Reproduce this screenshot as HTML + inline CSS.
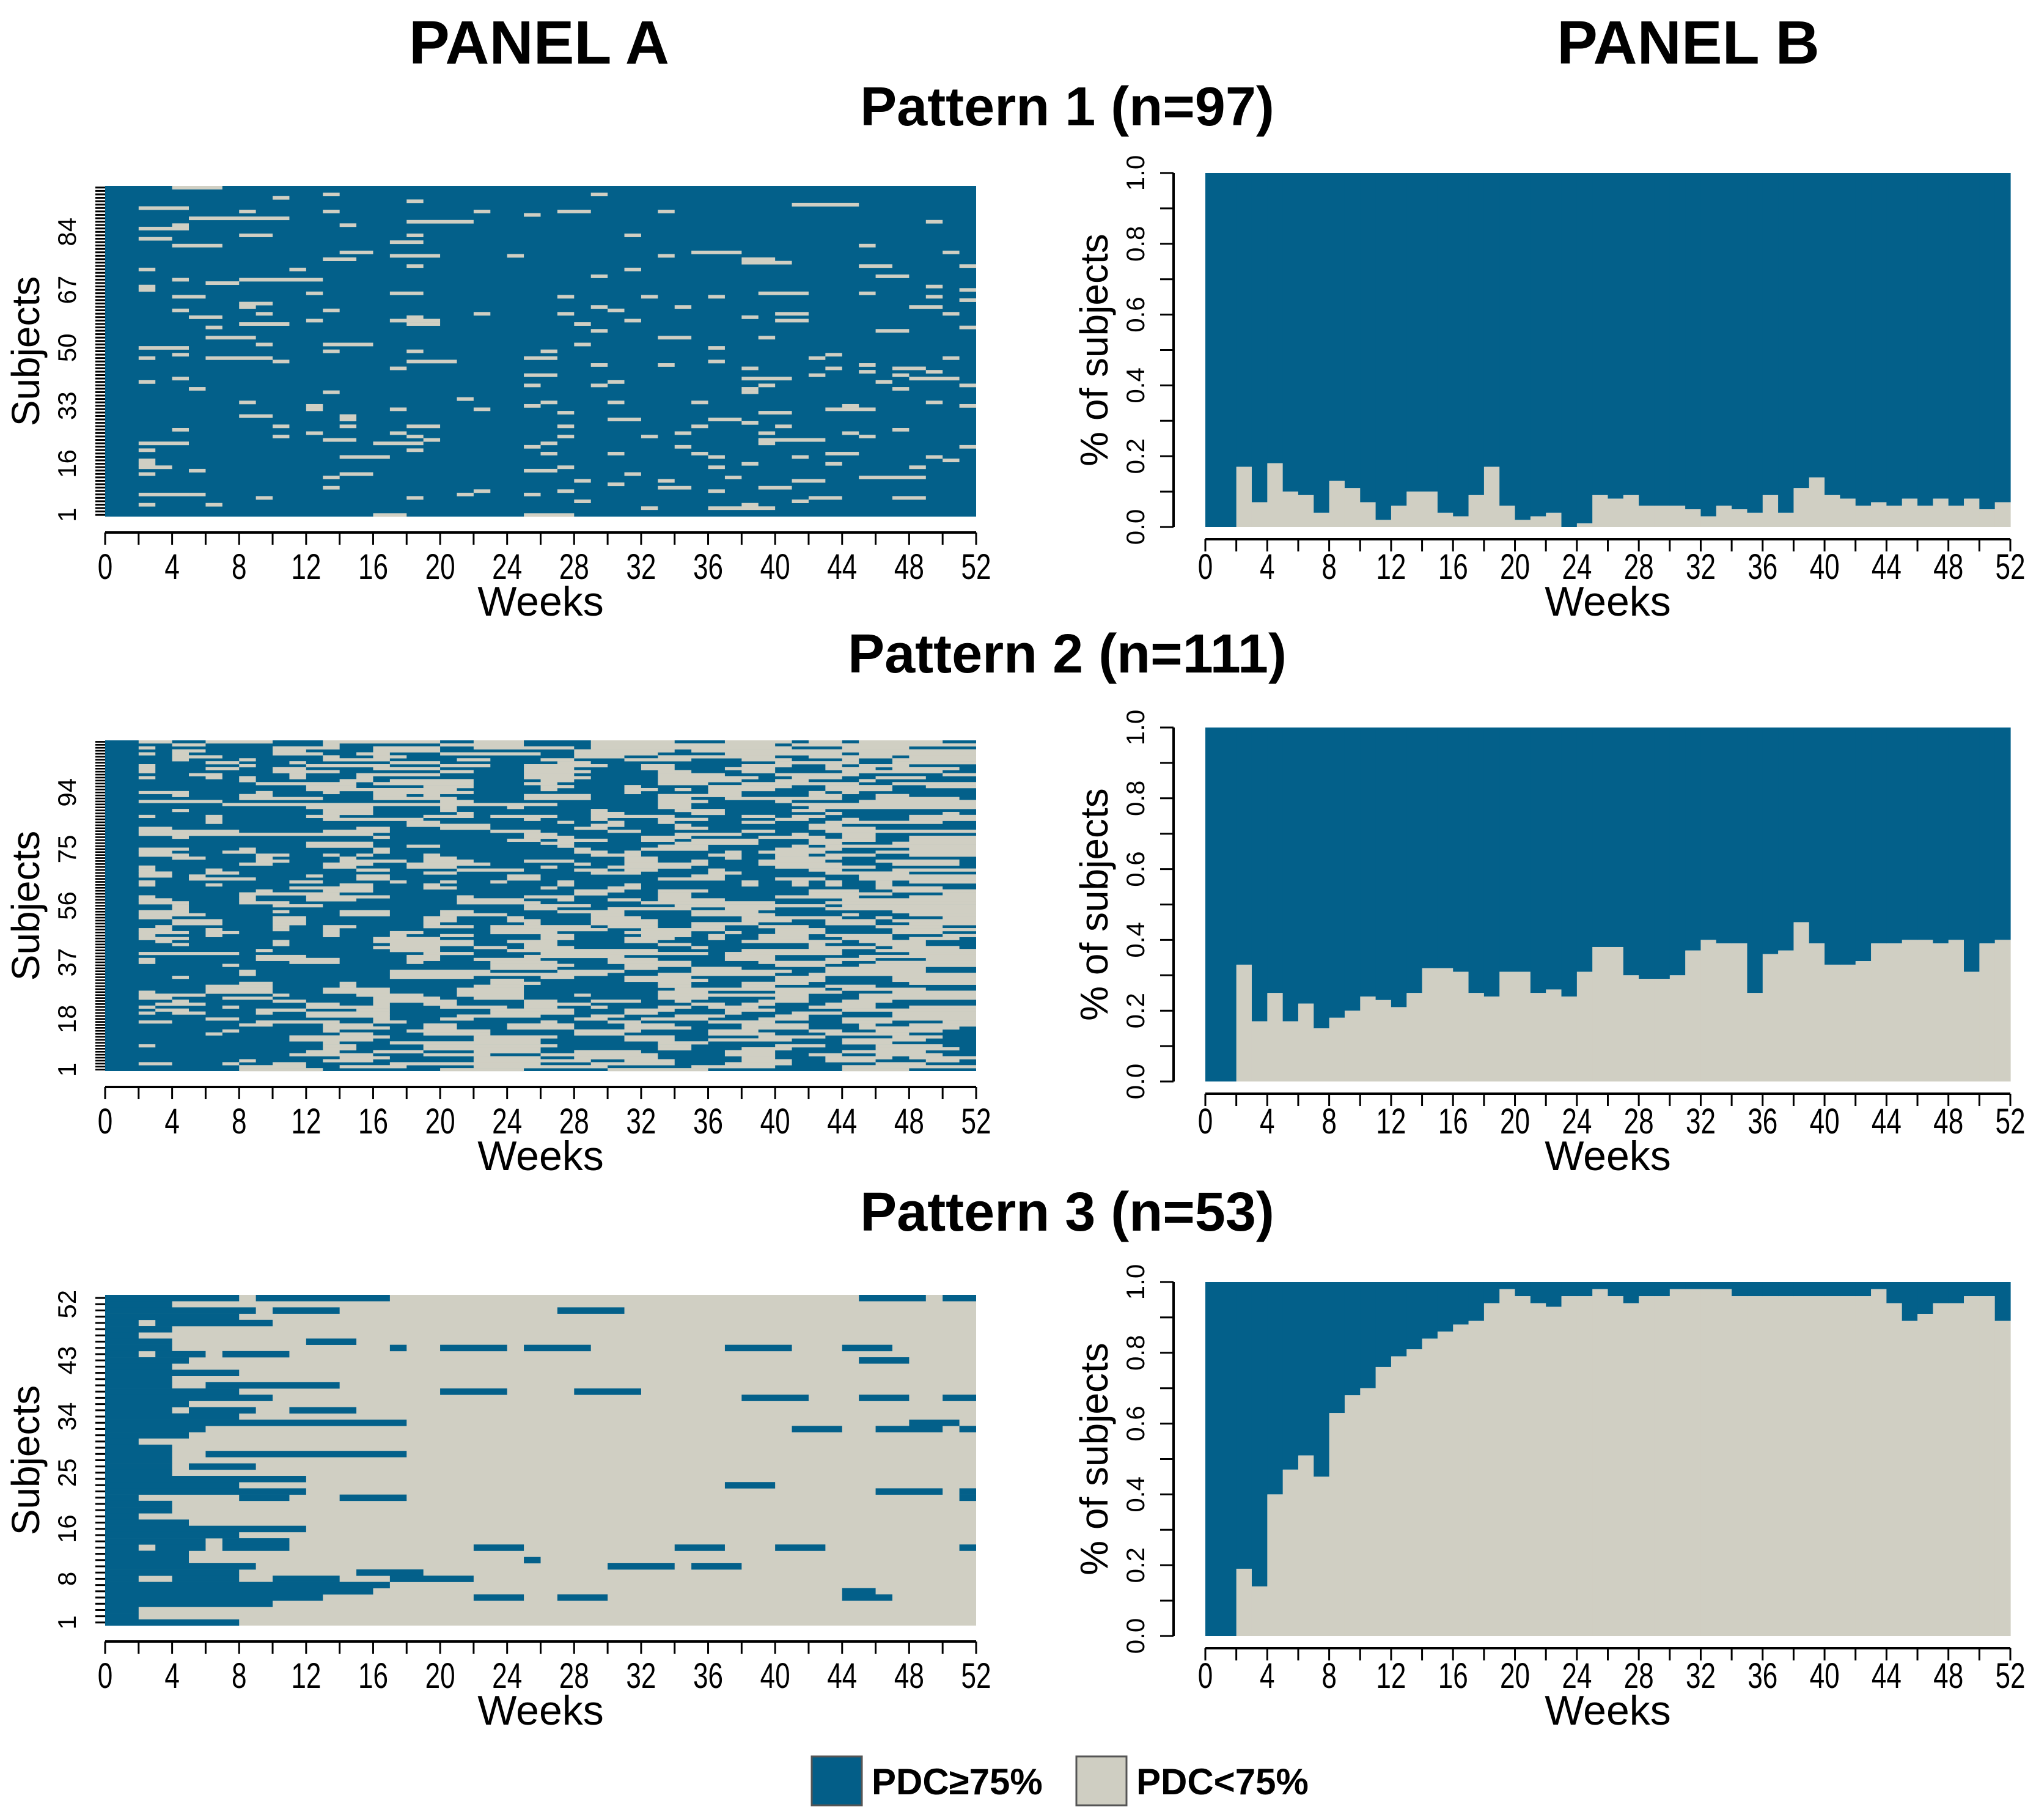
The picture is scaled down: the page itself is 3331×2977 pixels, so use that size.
<!DOCTYPE html>
<html><head><meta charset="utf-8">
<style>
html,body{margin:0;padding:0;background:#fff;}
svg{display:block;font-family:"Liberation Sans",Arial,sans-serif;}
</style></head>
<body>
<svg id="fig" width="3331" height="2977" viewBox="0 0 3331 2977" xmlns="http://www.w3.org/2000/svg">
<rect width="3331" height="2977" fill="#fff"/>
<text x="882" y="104" font-size="100" font-weight="bold" text-anchor="middle">PANEL A</text>
<text x="2762" y="104" font-size="100" font-weight="bold" text-anchor="middle">PANEL B</text>
<g id="content"></g>
<g>
<rect x="1328" y="2873" width="82" height="80" fill="#035e88" stroke="#555" stroke-width="3"/>
<text x="1426" y="2935" font-size="60" font-weight="bold">PDC≥75%</text>
<rect x="1761" y="2873" width="82" height="80" fill="#cfcec2" stroke="#555" stroke-width="3"/>
<text x="1859" y="2935" font-size="60" font-weight="bold">PDC&lt;75%</text>
</g>
</svg>
<script>
// ---------- DATA ----------
var weekTicks = [0,4,8,12,16,20,24,28,32,36,40,44,48,52];
var patternTitles = ["Pattern 1 (n=97)","Pattern 2 (n=111)","Pattern 3 (n=53)"];
var patternN = [97,111,53];
var subjTicks1 = [1,16,33,50,67,84];
var subjTicks2 = [1,18,37,56,75,94];
var subjTicks3 = [1,8,16,25,34,43,52];
var propTicks = [0,0.1,0.2,0.3,0.4,0.5,0.6,0.7,0.8,0.9,1.0];
var propLabels = ["0.0","0.2","0.4","0.6","0.8","1.0"];
// share of subjects with PDC<75% by week (weeks 0..51)
var lowShare1 = [0,0,.17,.07,.18,.10,.09,.04,.13,.11,.07,.02,.06,.10,.10,.04,.03,.09,.17,.06,.02,.03,.04,0,.01,.09,.08,.09,.06,.06,.06,.05,.03,.06,.05,.04,.09,.04,.11,.14,.09,.08,.06,.07,.06,.08,.06,.08,.06,.08,.05,.07];
var lowShare2 = [0,0,.33,.17,.25,.17,.22,.15,.18,.20,.24,.23,.21,.25,.32,.32,.31,.25,.24,.31,.31,.25,.26,.24,.31,.38,.38,.30,.29,.29,.30,.37,.40,.39,.39,.25,.36,.37,.45,.39,.33,.33,.34,.39,.39,.40,.40,.39,.40,.31,.39,.40];
var lowShare3 = [0,0,.19,.14,.40,.47,.51,.45,.63,.68,.70,.76,.79,.81,.84,.86,.88,.89,.94,.98,.96,.94,.93,.96,.96,.98,.96,.94,.96,.96,.98,.98,.98,.98,.96,.96,.96,.96,.96,.96,.96,.96,.96,.98,.94,.89,.91,.94,.94,.96,.96,.89];
// Pattern 1: gray segments "subject:startWeek:length" (subject 0-based from bottom)
var gray1 = ["96:4:3","93:10:1","94:13:1","92:18:1","94:29:1","90:2:3","91:41:4","89:8:1","89:13:1","89:22:1","89:27:2","88:25:1","89:33:1","87:5:6","86:18:4","86:49:1","85:14:1","84:2:3","85:4:1","82:8:2","82:18:1","82:31:1","81:2:2","80:17:2","79:4:3","79:45:1","77:14:2","76:17:3","76:24:1","76:33:1","77:35:3","77:50:1","75:13:2","74:38:3","75:38:2","73:18:1","73:45:2","73:51:1","72:2:1","72:11:1","72:31:1","70:29:1","70:46:2","69:4:1","69:8:5","68:6:2","67:2:1","66:2:1","67:49:1","66:51:1","65:12:1","65:17:2","65:39:3","65:45:1","64:4:2","64:27:1","64:32:1","64:36:1","64:49:1","63:51:1","62:8:2","61:8:1","61:29:1","61:34:1","61:48:2","60:13:1","60:4:1","60:30:1","59:9:1","59:22:1","59:27:1","59:40:2","59:50:1","58:5:2","58:38:1","58:18:1","57:12:1","57:17:3","57:31:1","57:40:2","56:8:3","56:18:2","56:28:1","55:6:1","55:51:1","54:29:1","54:46:2","52:6:3","52:33:2","52:39:1","50:9:1","50:13:3","50:28:1","49:2:3","49:36:1","48:13:1","48:18:1","48:26:1","47:4:1","47:43:1","46:2:1","46:6:4","46:25:2","46:42:1","46:50:1","45:10:1","45:18:3","45:36:1","44:29:1","44:33:1","44:45:1","43:17:1","43:38:1","43:43:1","43:47:2","42:45:1","42:49:1","41:25:2","41:42:1","41:47:1","40:4:1","40:38:3","40:48:3","39:2:1","39:30:1","39:46:1","38:25:1","38:29:1","38:39:1","38:51:1","37:5:1","37:38:1","36:38:1","37:47:1","36:13:1","34:21:1","33:8:1","33:30:1","33:35:1","33:49:1","33:26:1","32:12:1","31:12:1","32:25:1","32:51:1","32:44:1","31:17:1","31:22:1","31:43:3","30:27:1","30:39:2","29:14:1","28:14:1","29:8:2","28:30:2","28:36:2","27:38:1","26:10:1","26:14:1","26:18:2","26:27:1","26:35:1","26:40:1","25:4:1","25:47:1","24:12:1","24:17:1","24:34:1","24:39:1","24:44:1","23:10:1","23:18:1","23:27:1","23:32:1","23:45:1","22:13:2","22:19:1","22:39:4","21:2:3","21:16:3","21:26:1","21:39:1","20:25:1","20:34:1","20:51:1","19:2:1","19:18:1","18:26:1","18:30:1","18:35:1","18:43:2","17:14:3","17:36:1","17:41:1","17:49:1","16:2:1","15:2:1","16:50:1","15:38:1","15:43:1","14:2:2","14:27:1","14:36:1","14:48:1","13:5:1","13:25:2","12:2:1","12:14:2","12:31:1","11:13:1","11:37:1","11:45:4","10:28:1","10:33:1","10:41:2","9:30:1","8:13:1","8:33:2","8:39:2","7:22:1","7:27:1","7:36:1","6:2:3","6:21:1","6:25:1","6:5:1","5:9:1","5:18:1","5:42:2","5:47:2","4:28:1","4:41:1","3:2:1","3:6:1","3:38:1","2:32:1","2:36:4","0:16:2","0:25:3"];
// Pattern 2: gray week ranges per subject row, listed from top (subject 111) to bottom
var gray2 = [
"2-4,6-10,13-20,22-25,29-34,37-41,42-44,45-50","4-6,13-14,20-25,29-40,41-52","2-3,10-14,16-20,22-28,29-41,44-48","4-6,10-12,16-20,28-34,35-52",
"2-3,4-5,10-13,15-17,20-26,28-33,37-44,45-52","4-7,13-14,16-18,28-31,33-40,42-47,48-52","4-5,8-9,13-17,21-23,26-28,31-35,38-41,44-45,47-52","6-8,11-12,17-20,27-29,40-45,47-52",
"2-3,8-9,12-17,20-23,25-30,32-34,38-41,43-44,45-48","2-3,6-8,10-12,16-20,25-28,32-34,37-40,43-46,47-51","2-3,10-14,20-22,25-29,33-35,38-40,44-50","5-7,11-12,15-20,25-28,33-37,40-45,50-52",
"2-3,6-7,8-9,11-12,15-16,25-29,33-39,41-44,46-49","8-9,14-16,17-22,26-28,33-38,40-42,45-46","9-15,16-22,25-27,33-36,38-45,47-52","12-15,19-22,26-28,31-32,36-41,43-47,49-52",
"12-21,26-27,31-33,34-35,36-40,43-47","2-4,4-5,9-10,13-14,16-22,31-32,36-38,42-43,44-45","4-5,8-10,16-18,19-20,25-29,33-38,42-44,46-48","8-13,16-21,25-29,33-35,37-44,46-51",
"2-7,20-22,33-36,40-41,45-52","7-27,33-35,41-52","12-16,20-21,24-25,33-35,42-52","4-5,13-16,20-21,29-30,34-37,41-43",
"13-16,21-22,29-31,35-37,43-44,50-51","2-3,6-7,12-14,19-22,23-27,29-34,38-40,41-43,48-52","6-7,13-19,25-26,29-30,33-36,40-42,44-45,48-52","6-7,18-20,27-28,30-31,33-34,38-40,43-50",
"18-23,29-31,34-35,42-44","2-4,15-17,20-23,28-30,34-36,42-46","2-8,13-17,23-26,30-32,38-40,43-52","2-16,25-27,34-38,41-42,44-46",
"4-5,16-17,25-28,32-35,39-43,44-46,48-52","24-26,27-30,32-34,35-39,42-46,48-52","12-16,26-28,34-39,42-44,47-52","12-16,18-20,27-28,33-36,41-42,43-52",
"2-5,8-9,16-17,28-29,32-36,40-44,48-52","2-4,7-9,16-17,28-30,31-32,37-38,39-43,46-52","2-5,9-11,13-14,15-16,19-20,29-32,36-38,40-42,43-46,48-52","4-6,9-10,14-15,19-21,31-33,37-38,40-44",
"9-11,14-18,19-22,25-28,31-33,35-36,39-43,46-51","8-10,13-16,18-23,28-29,31-36,39-44,47-51","2-3,13-15,18-21,26-27,30-35,40-46","2-3,6-7,15-17,21-25,28-30,31-33,36-37,42-44,47-52",
"2-4,6-8,19-21,29-32,36-38,43-48","2-4,5-6,12-13,15-17,24-26,35-37,45-52","5-9,15-17,24-26,33-37,40-43,45-52","2-3,11-13,17-18,20-21,23-24,27-28,38-39,41-42,43-44,46-47,48-52",
"2-3,6-7,14-16,19-20,27-28,31-32,38-39,41-42,43-44,46-47","11-16,19-21,26-27,30-32,46-50","9-10,13-16,28-31,33-36,42-45,47-52","8-14,28-30,33-35,42-47,50-52",
"2-3,8-9,12-17,21-22,25-28,33-35,40-45,48-52","2-4,8-9,12-15,21-25,27-28,30-32,33-37,44-52","2-5,8-11,21-26,32-40,43-52","4-5,10-13,25-29,34-43,44-52",
"4-5,25-27,30-35,37-40,43-52","2-5,10-11,14-17,20-22,27-31,35-39,47-52","2-6,14-17,20-24,29-31,35-40,44-45,48-52","2-4,10-12,19-21,24-25,29-32,38-44,46-47,50-52",
"4-7,10-12,19-21,24-26,29-33,38-41,43-46,47-52","4-7,10-12,19-20,25-26,29-33,35-39,43-46,48-52","3-4,10-11,13-15,19-22,23-29,30-33,35-37,39-42,46-50","2-4,6-7,10-11,13-14,23-30,32-37,40-43,47-52",
"2-5,6-8,13-14,17-19,23-27,31-35,37-38,40-43,47-50","2-3,6-7,13-14,17-18,20-22,26-28,32-35,36-37,39-42,43-47,50-52","2-5,16-20,26-28,31-34,36-37,39-42,44-47,48-51","3-4,10-11,16-22,24-27,31-33,38-44,45-49",
"4-5,10-11,17-22,25-27,33-35,42-43,46-49","16-20,22-24,25-28,35-36,42-46,47-51","9-10,17-20,24-33,38-44,46-52","2-8,19-22,26-36,37-44,48-52",
"9-12,18-20,25-31,37-40,45-52","2-3,9-14,18-20,22-26,30-33,37-40,43-46,49-52","2-3,11-14,18-19,23-27,30-35,39-44,46-52","7-8,23-28,31-35,40-43,45-52",
"23-27,31-33,35-38,43-49","8-9,17-23,27-31,35-41,43-49","8-9,17-30,33-40,42-52","4-5,17-22,26-28,31-35,40-43,47-52",
"23-25,31-36,40-43,47-52","8-10,14-15,23-26,33-35,38-42,48-52","6-10,14-15,22-25,33-35,38-40,43-46","6-10,13-17,21-25,34-43,44-49",
"2-3,6-10,13-17,21-25,33-36,40-44,47-52","2-6,10-11,15-19,21-25,28-29,33-42,45-52","2-4,7-10,16-20,22-25,33-36,40-42,45-52","4-5,10-12,16-21,25-27,29-32,34-35,39-42,44-47",
"3-6,12-14,16-17,19-21,25-29,35-37,38-40,43-46","2-3,7-8,12-17,20-24,25-27,29-30,33-35,36-39,42-46,48-52","3-5,9-12,15-17,23-28,31-34,37-40,44-52","2-3,4-6,9-10,12-17,23-28,31-33,37-38,41-44,47-52",
"12-17,21-26,29-31,34-37,40-42,47-52","6-8,16-17,20-22,28-30,32-36,39-42,44-52","2-4,9-14,16-18,26-27,30-32,36-40,44-47,50-52","8-10,13-16,19-21,24-28,31-34,38-42,45-46,48-52",
"13-17,19-21,24-28,31-35,38-42,45-51","7-8,13-14,18-23,28-32,36-39,42-44,46-50","6-7,14-16,19-23,28-31,36-40,43-48","11-17,22-27,31-34,39-43,47-50",
"11-16,22-26,31-34,36-41,44-49","13-14,17-26,33-36,44-47","2-3,13-15,19-27,33-35,40-43,46-50","13-15,19-26,33-35,38-41,46-51",
"12-14,16-19,22-26,28-32,37-40,44-49","11-16,19-23,26-33,37-40,42-44,46-50","14-17,22-26,28-33,38-40,43-47,48-52","8-9,13-16,22-29,31-34,38-41,43-46,49-51",
"2-4,7-8,10-12,17-26,29-34,37-41,46-49","8-12,14-18,22-30,35-40,44-52","8-13,20-25,30-36,44-48"];
// Pattern 3: blue week ranges per subject row, listed from top (subject 53) to bottom
var blue3 = [
"0-8,9-17,45-49,50-52","0-4","0-9,10-14,27-31","0-8","0-2,3-10","0-4","0-2","0-4,12-15",
"0-4,17-18,20-24,25-29,37-41,44-47","0-2,3-6,7-11","0-5,45-48","0-4","0-8","0-4","0-4,6-14","0-8,20-24,28-32",
"0-10,38-42,45-48,50-52","0-5","0-4,5-9,11-15","0-8","0-18,48-51","0-6,41-44,46-50,51-52","0-5","0-2",
"0-4","0-4,6-18","0-4","0-4,5-9","0-4","0-12","0-8,37-40","0-12,46-50,51-52",
"0-2,8-11,14-18,51-52","0-4","0-4","0-2","0-5","0-12","0-8","0-6,7-11",
"0-2,3-6,7-11,22-25,34-37,40-43,51-52","0-5","0-5,25-26","0-9,30-34,35-38","0-8,15-19","0-2,4-8,10-14,17-22","0-17","0-16,44-46",
"0-13,22-25,27-30,44-47","0-10","0-2","0-2","0-8"];

// ---------- RENDER ----------
var NS = "http://www.w3.org/2000/svg";
var BLUE = "#03608a", GRAY = "#d0cfc3";
var root = document.getElementById("content");
function mk(tag, attrs, parent){
  var e = document.createElementNS(NS, tag);
  for (var k in attrs) e.setAttribute(k, attrs[k]);
  (parent||root).appendChild(e);
  return e;
}
var ROW = 907;
var titleY = [205, 1100, 2013];
var HX0 = 172, HX1 = 1597;      // heatmap x range
var BX0 = 1972, BX1 = 3289;     // panel B x range
function xs(w, x0, x1){ return x0 + (x1 - x0) * w / 52; }

function xAxis(g, x0, x1, yAxis, labY){
  var ax = mk("g", {}, g);
  
  
  mk("line",{x1:x0,x2:x1,y1:yAxis,y2:yAxis,stroke:"#000","stroke-width":4},ax);
  for (var w=0; w<=52; w+=2){
    var x = xs(w,x0,x1);
    mk("line",{x1:x,x2:x,y1:yAxis,y2:yAxis+20,stroke:"#000","stroke-width":3},ax);
  }
  weekTicks.forEach(function(w){
    var t = mk("text",{transform:"translate("+xs(w,x0,x1)+","+labY+") scale(0.76,1)","font-size":58,"text-anchor":"middle"},ax);
    
    
    t.textContent = w;
  });
  var lab = mk("text",{x:(x0+x1)/2,y:labY+60,"font-size":68,"text-anchor":"middle"},ax);
  
  
  lab.textContent = "Weeks";
}

function parseRanges(s){
  return s.split(",").map(function(r){ var p=r.split("-"); return [ +p[0], +p[1] ]; });
}

var subjTicksAll = [subjTicks1, subjTicks2, subjTicks3];
var lowShareAll = [lowShare1, lowShare2, lowShare3];

for (var p=0; p<3; p++){
  var off = p*ROW;
  var g = mk("g",{});
  
  
  var tt = mk("text",{x:1746,y:titleY[p],"font-size":90,"font-weight":"bold","text-anchor":"middle"},g);
  
  
  tt.textContent = patternTitles[p];

  // ---- heatmap (panel A) ----
  var N = patternN[p];
  var HY0 = 304+off, HY1 = 845+off;
  var rh = (HY1-HY0)/N;
  function ry(s){ return HY1 - (s+1)*rh; }
  var hm = mk("g",{},g);
  
  
  var bg = mk("rect",{x:HX0,y:HY0,width:HX1-HX0,height:HY1-HY0,fill:(p==2?GRAY:BLUE)},hm);
  
  
  var cells = [];
  if (p==0){
    gray1.forEach(function(s){ var q=s.split(":"); cells.push([+q[0], +q[1], +q[1] + +q[2], GRAY]); });
  } else if (p==1){
    gray2.forEach(function(s,k){ var subj = N-1-k; parseRanges(s).forEach(function(r){ cells.push([subj, r[0], r[1], GRAY]); }); });
  } else {
    blue3.forEach(function(s,k){ var subj = N-1-k; parseRanges(s).forEach(function(r){ cells.push([subj, r[0], r[1], BLUE]); }); });
  }
  cells.forEach(function(c){
    var r = mk("rect",{x:xs(c[1],HX0,HX1),y:ry(c[0]),width:xs(c[2],HX0,HX1)-xs(c[1],HX0,HX1),height:rh+0.3,fill:c[3]},hm);
    
    
  });
  // y comb ticks
  var ya = mk("g",{},g);
  
  
  for (var s=0; s<N; s++){
    var yc = ry(s)+rh/2;
    mk("line",{x1:156,x2:HX0,y1:yc,y2:yc,stroke:"#000","stroke-width":Math.min(3,rh*0.55)},ya);
  }
  subjTicksAll[p].forEach(function(v){
    var yc = ry(v-1)+rh/2;
    var t = mk("text",{transform:"translate(124,"+yc+") rotate(-90)","font-size":42,"text-anchor":"middle"},ya);
    
    
    t.textContent = v;
  });
  var st = mk("text",{transform:"translate(64,"+((HY0+HY1)/2)+") rotate(-90)","font-size":64,"text-anchor":"middle"},ya);
  
  
  st.textContent = "Subjects";
  xAxis(g, HX0, HX1, 871+off, 947+off);

  // ---- stacked share bars (panel B) ----
  var BY0 = 283+off, BY1 = 862+off;
  function ys(v){ return BY1 - (BY1-BY0)*v; }
  var bp = mk("g",{},g);
  
  
  lowShareAll[p].forEach(function(v,w){
    var x0 = xs(w,BX0,BX1), x1 = xs(w+1,BX0,BX1);
    var b = mk("rect",{x:x0,y:BY0,width:x1-x0+0.6,height:ys(v)-BY0,fill:BLUE},bp);
    
    
    var gr = mk("rect",{x:x0,y:ys(v),width:x1-x0+0.6,height:BY1-ys(v),fill:GRAY},bp);
    
    
  });
  var yb = mk("g",{},g);
  
  
  mk("line",{x1:1920,x2:1920,y1:ys(0),y2:ys(1),stroke:"#000","stroke-width":4},yb);
  propTicks.forEach(function(v){
    mk("line",{x1:1898,x2:1920,y1:ys(v),y2:ys(v),stroke:"#000","stroke-width":3},yb);
  });
  propLabels.forEach(function(l){
    var t = mk("text",{transform:"translate(1872,"+ys(+l)+") rotate(-90)","font-size":42,"text-anchor":"middle"},yb);
    
    
    t.textContent = l;
  });
  var pt = mk("text",{transform:"translate(1812,"+((BY0+BY1)/2)+") rotate(-90)","font-size":64,"text-anchor":"middle"},yb);
  
  
  pt.textContent = "% of subjects";
  xAxis(g, BX0, BX1, 882+off, 947+off);
}
</script>
</body></html>
